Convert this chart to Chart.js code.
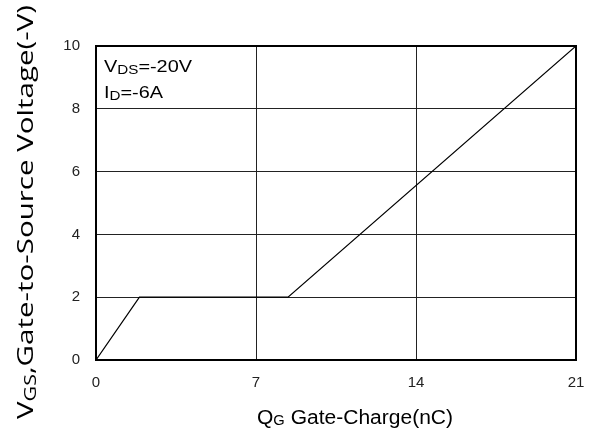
<!DOCTYPE html>
<html><head><meta charset="utf-8">
<script src="https://cdn.jsdelivr.net/npm/chart.js@4"></script>
<style>html,body{margin:0;padding:0;background:#fff}#c{display:block}</style>
</head><body>
<div style="width:595px;height:432px"><canvas id="c" width="595" height="432"></canvas></div>
<script>
const qg = [0, 1.9, 8.4, 21];
const vgs = [0, 2, 2, 10];
const xTicks = [0, 7, 14, 21];
const yTicks = [0, 2, 4, 6, 8, 10];

// draw runs [{t, size, dy}] stretched horizontally to targetW, centred at cx
function drawRuns(ctx, runs, family, cx, baseY, targetW) {
  let natural = 0;
  runs.forEach(r => { ctx.font = r.size + 'px ' + family; r.w = ctx.measureText(r.t).width; natural += r.w; });
  const sx = targetW / natural;
  ctx.save();
  ctx.translate(cx - targetW / 2, baseY);
  ctx.scale(sx, 1);
  let x = 0;
  runs.forEach(r => {
    ctx.font = r.size + 'px ' + family;
    ctx.fillText(r.t, x, r.dy || 0);
    x += r.w;
  });
  ctx.restore();
}

const textPlugin = {
  id: 'texts',
  afterDraw(chart) {
    const ctx = chart.ctx;
    ctx.save();
    ctx.fillStyle = '#000';
    ctx.textAlign = 'left';
    ctx.textBaseline = 'alphabetic';
    const arial = '"Liberation Sans", Arial, sans-serif';
    // annotation
    drawRuns(ctx, [{t: 'V', size: 17}, {t: 'DS', size: 13, dy: 2}, {t: '=-20V', size: 17}], arial, 148, 72, 88);
    drawRuns(ctx, [{t: 'I', size: 17}, {t: 'D', size: 13, dy: 2}, {t: '=-6A', size: 17}], arial, 133.5, 98, 59);
    // x title
    drawRuns(ctx, [{t: 'Q', size: 20}, {t: 'G', size: 14, dy: 1}, {t: ' Gate-Charge(nC)', size: 20}], arial, 355, 424, 196);
    // y title
    ctx.translate(33, 212);
    ctx.rotate(-Math.PI / 2);
    drawRuns(ctx, [{t: 'V', size: 22}, {t: 'GS', size: 16, dy: 3}, {t: ',Gate-to-Source Voltage(-V)', size: 22}], '"Open Sans", sans-serif', 0, 0, 414);
    ctx.restore();
  }
};

new Chart(document.getElementById('c'), {
  type: 'scatter',
  data: {
    datasets: [{
      data: qg.map((x, i) => ({x: x, y: vgs[i]})),
      showLine: true,
      borderColor: '#000',
      borderWidth: 1.2,
      pointRadius: 0,
      tension: 0
    }]
  },
  options: {
    responsive: false,
    animation: false,
    devicePixelRatio: 1,
    layout: {padding: {left: 0, right: 19, top: 46, bottom: 0}},
    plugins: {legend: {display: false}, tooltip: {enabled: false}},
    scales: {
      x: {
        type: 'linear', min: 0, max: 21,
        afterBuildTicks: s => { s.ticks = xTicks.map(v => ({value: v})); },
        afterFit: s => { s.height = 72; },
        grid: {color: '#222', lineWidth: 1, drawTicks: true, tickLength: 13, tickColor: 'rgba(0,0,0,0)'},
        border: {color: '#000', width: 2},
        ticks: {color: '#222', font: {family: '"Liberation Sans", Arial', size: 15}, padding: 1, maxRotation: 0}
      },
      y: {
        type: 'linear', min: 0, max: 10,
        afterBuildTicks: s => { s.ticks = yTicks.map(v => ({value: v})); },
        afterFit: s => { s.width = 96; },
        grid: {color: '#222', lineWidth: 1, drawTicks: false},
        border: {color: '#000', width: 2},
        ticks: {color: '#222', font: {family: '"Liberation Sans", Arial', size: 15}, padding: 16}
      }
    }
  },
  plugins: [textPlugin, {
    id: 'frame',
    afterDatasetsDraw(chart) {
      const {ctx, chartArea: a} = chart;
      ctx.save();
      ctx.strokeStyle = '#000';
      ctx.lineWidth = 2;
      ctx.strokeRect(a.left, a.top, a.right - a.left, a.bottom - a.top);
      ctx.restore();
    }
  }]
});
</script>
</body></html>
